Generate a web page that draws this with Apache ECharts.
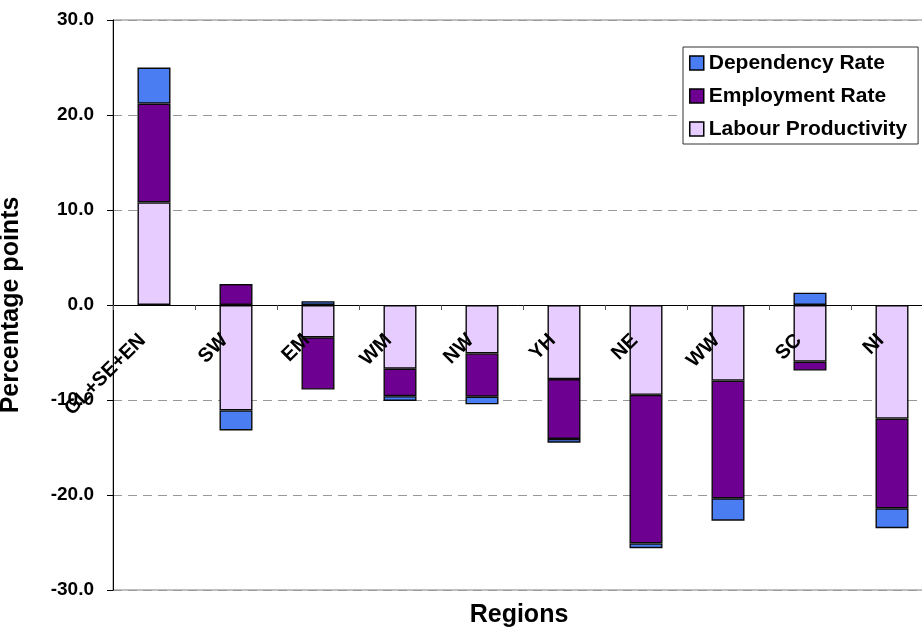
<!DOCTYPE html>
<html>
<head>
<meta charset="utf-8">
<script src="https://cdn.jsdelivr.net/npm/echarts@6/dist/echarts.min.js"></script>
<style>
  html, body { margin: 0; padding: 0; background: #fff; }
  #chart { width: 922px; height: 629px; }
</style>
</head>
<body>
<div id="chart"></div>
<script>
// Regional gap decomposition, percentage points
const regions = ['GL+SE+EN', 'SW', 'EM', 'WM', 'NW', 'YH', 'NE', 'WW', 'SC', 'NI'];
const labourProductivity = [10.8, -11.1, -3.4, -6.7, -5.1, -7.8, -9.45, -7.95, -5.95, -11.95];
const employmentRate = [10.4, 2.2, -5.5, -2.9, -4.55, -6.3, -15.65, -12.4, -0.95, -9.45];
const dependencyRate = [3.8, -2.1, 0.4, -0.5, -0.8, -0.4, -0.5, -2.35, 1.3, -2.1];
const yTicks = { min: -30, max: 30, interval: 10 };

const FONT = '"Liberation Sans", Arial, sans-serif';
const GRID = { left: 113, top: 20, width: 820, height: 570 };
// distance from the plot bottom up to the zero line
const zeroOffset = GRID.height * (0 - yTicks.min) / (yTicks.max - yTicks.min);

const chart = echarts.init(document.getElementById('chart'), null, { renderer: 'canvas' });

const border = { borderColor: '#0a0a0a', borderWidth: 1.4 };
function barSeries(name, data, color) {
  return {
    name: name,
    type: 'bar',
    stack: 'gap',
    data: data,
    barWidth: 33,
    itemStyle: Object.assign({ color: color }, border),
    emphasis: { disabled: true }
  };
}

chart.setOption({
  animation: false,
  backgroundColor: '#fff',
  grid: Object.assign({
    show: true, borderColor: '#808080', borderWidth: 1,
    outerBoundsMode: 'none'
  }, GRID),
  legend: {
    data: ['Dependency Rate', 'Employment Rate', 'Labour Productivity'],
    orient: 'vertical',
    left: 683, top: 47,
    padding: [5, 11, 4, 6],
    itemGap: 11,
    itemWidth: 14, itemHeight: 14,
    icon: 'rect',
    itemStyle: { borderColor: '#000', borderWidth: 1.5 },
    backgroundColor: '#fff',
    borderColor: '#333', borderWidth: 1,
    textStyle: { fontFamily: FONT, fontWeight: 'bold', fontSize: 21, lineHeight: 22, color: '#000' },
    selectedMode: false
  },
  xAxis: {
    type: 'category',
    data: regions,
    position: 'bottom',
    offset: -zeroOffset,
    z: 5,
    axisLine: { onZero: false, lineStyle: { color: '#000', width: 1 } },
    axisTick: { show: true, length: 5, lineStyle: { color: '#555' } },
    axisLabel: {
      interval: 0, rotate: 45, margin: 21,
      padding: [0, 16, 0, 0],
      fontFamily: FONT, fontWeight: 'bold', fontSize: 20, color: '#000'
    },
    splitLine: { show: false }
  },
  yAxis: {
    type: 'value',
    min: yTicks.min, max: yTicks.max, interval: yTicks.interval,
    name: 'Percentage points',
    nameLocation: 'middle',
    nameGap: 89,
    nameTextStyle: { fontFamily: FONT, fontWeight: 'bold', fontSize: 25, color: '#000' },
    axisLine: { show: true, lineStyle: { color: '#000', width: 1 } },
    axisTick: { show: true, length: 6, lineStyle: { color: '#000' } },
    axisLabel: {
      margin: 19,
      fontFamily: FONT, fontWeight: 'bold', fontSize: 19, color: '#000',
      formatter: v => v.toFixed(1)
    },
    splitLine: {
      show: true,
      lineStyle: { color: '#999', width: 1, type: [9, 6] }
    }
  },
  graphic: [{
    type: 'text',
    x: 519, y: 615,
    style: {
      text: 'Regions',
      textAlign: 'center', textVerticalAlign: 'middle',
      font: 'bold 25px ' + FONT, fill: '#000'
    }
  }],
  series: [
    barSeries('Labour Productivity', labourProductivity, '#E6CCFF'),
    barSeries('Employment Rate', employmentRate, '#6E0091'),
    barSeries('Dependency Rate', dependencyRate, '#4A7CF2')
  ]
});
</script>
</body>
</html>
